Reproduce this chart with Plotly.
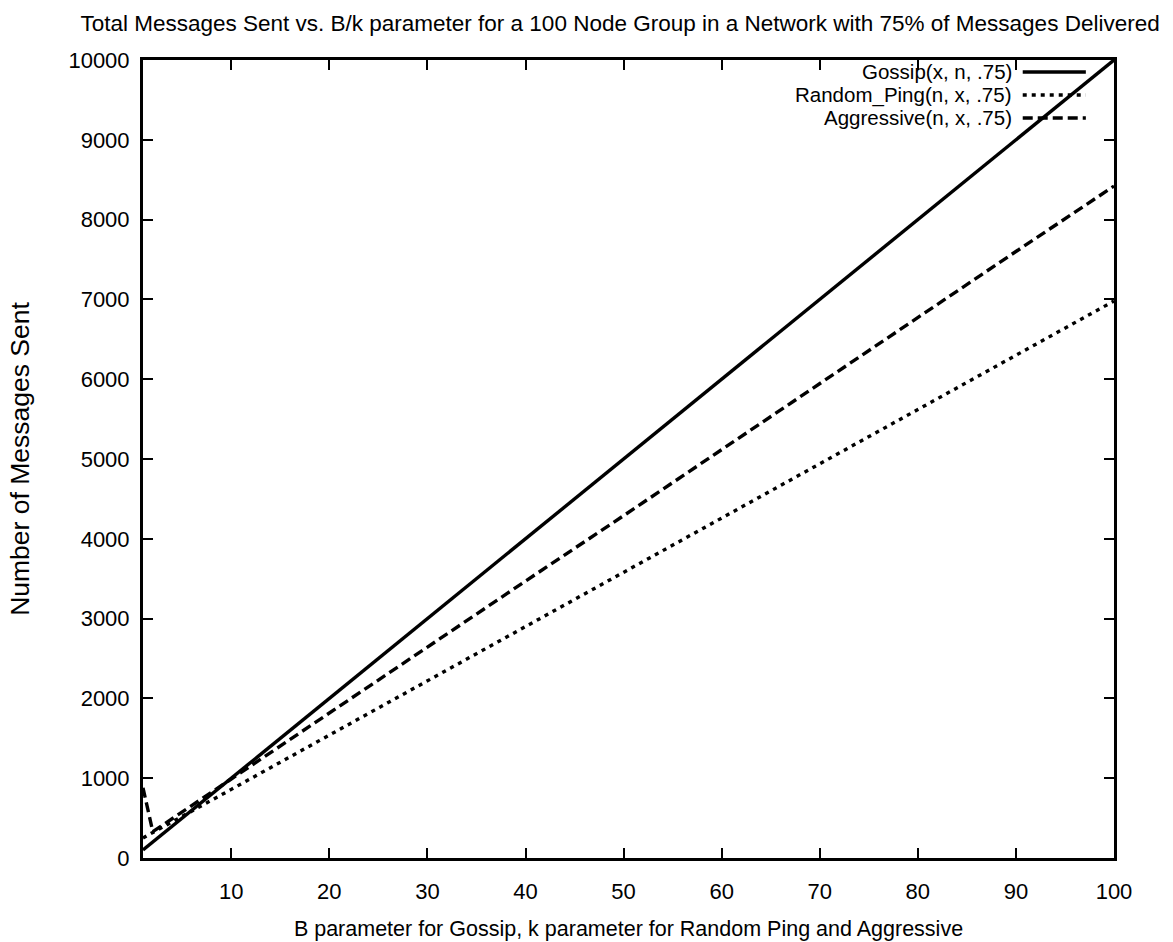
import plotly.graph_objects as go

# B / k parameter values at which the curves are sampled
b_values = [1, 2, 10, 20, 30, 40, 50, 60, 70, 80, 90, 100]

# Total messages sent for each protocol
gossip = [100, 200, 1000, 2000, 3000, 4000, 5000, 6000, 7000, 8000, 9000, 10000]
random_ping = [250, 320, 860, 1540, 2220, 2900, 3580, 4260, 4940, 5620, 6300, 6980]
aggressive = [880, 330, 990, 1820, 2640, 3470, 4290, 5120, 5940, 6770, 7600, 8420]

series_names = ["Gossip(x, n, .75)", "Random_Ping(n, x, .75)", "Aggressive(n, x, .75)"]
series_values = [gossip, random_ping, aggressive]
series_dash = ["solid", "4px,5px", "10px,5px"]

FONT = "Liberation Sans, Arial, sans-serif"

fig = go.Figure()
for name, vals, dash in zip(series_names, series_values, series_dash):
    fig.add_trace(go.Scatter(
        x=b_values, y=vals, mode="lines", name=name,
        line=dict(color="black", width=3.4, dash=dash),
        showlegend=False,
    ))

# Key drawn in the gnuplot style: right-aligned text with the sample line after it
key_y = [0.9850, 0.9562, 0.9274]
for name, dash, yk in zip(series_names, series_dash, key_y):
    fig.add_annotation(
        x=0.896, y=yk, xref="paper", yref="paper", text=name,
        showarrow=False, xanchor="right", yanchor="middle", borderpad=0,
        font=dict(family=FONT, size=20.5, color="black"),
    )
    fig.add_shape(
        type="line", xref="paper", yref="paper",
        x0=0.906, x1=0.971, y0=yk, y1=yk,
        line=dict(color="black", width=3.4, dash=dash),
    )

axis_common = dict(
    showline=True, linecolor="black", linewidth=3,
    mirror="allticks", ticks="inside", ticklen=10, tickwidth=2,
    tickcolor="black", showgrid=False, zeroline=False, automargin=False,
    tickfont=dict(family=FONT, size=22, color="black"),
)

fig.update_layout(
    width=1173, height=942,
    margin=dict(l=143, r=59, t=60, b=84),
    paper_bgcolor="white", plot_bgcolor="white",
    font=dict(family=FONT, color="black"),
    title=dict(
        text="Total Messages Sent vs. B/k parameter for a 100 Node Group in a Network with 75% of Messages Delivered",
        x=0.5286, xanchor="center", y=0.9755, yanchor="middle",
        yref="container", font=dict(family=FONT, size=22.5, color="black"),
    ),
    xaxis=dict(
        range=[1, 100], tick0=0, dtick=10, ticklabelstandoff=12, **axis_common,
        title=dict(text="B parameter for Gossip, k parameter for Random Ping and Aggressive",
                   font=dict(family=FONT, size=21.5, color="black"), standoff=18),
    ),
    yaxis=dict(
        range=[0, 10000], tick0=0, dtick=1000, tickformat="d",
        ticklabelstandoff=6, **axis_common,
        title=dict(text="Number of Messages Sent",
                   font=dict(family=FONT, size=26.5, color="black"), standoff=32),
    ),
)

fig.write_html("out.html")
